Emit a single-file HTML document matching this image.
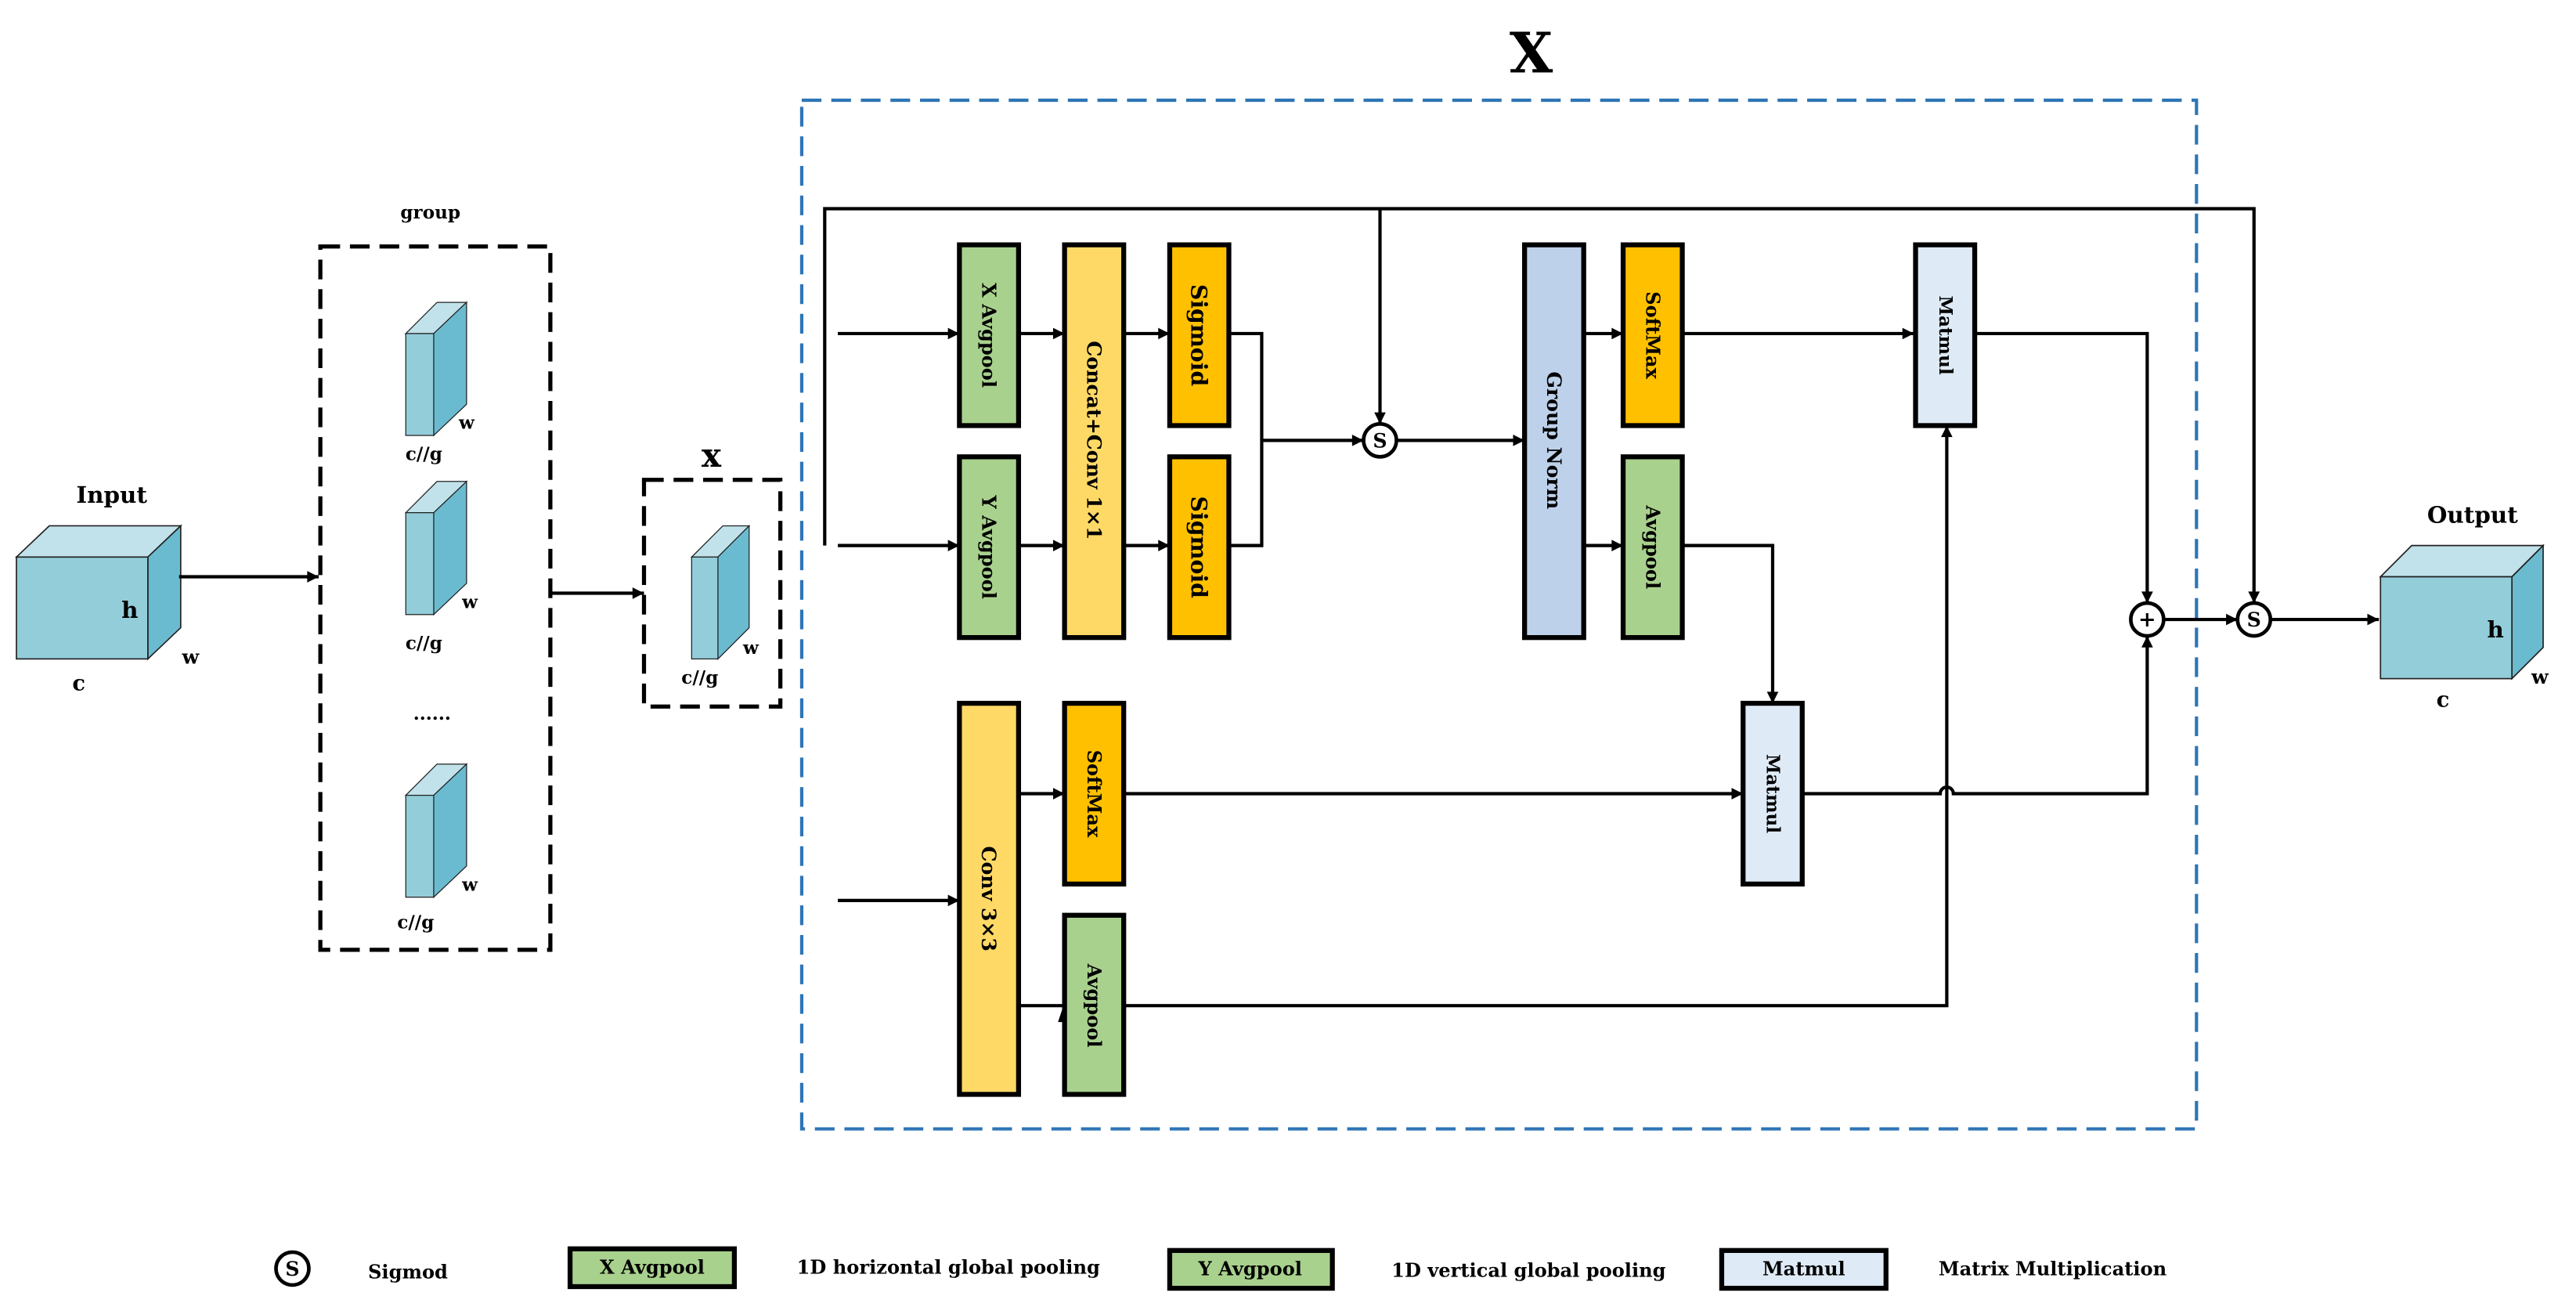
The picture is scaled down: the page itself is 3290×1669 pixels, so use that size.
<!DOCTYPE html>
<html><head><meta charset="utf-8"><style>
html,body{margin:0;padding:0;background:#fff;}
svg{display:block;}
text{font-family:"DejaVu Serif","Liberation Serif",serif;font-weight:bold;fill:#000;}
</style></head><body>
<svg width="3290" height="1669" viewBox="0 0 1568 795.4" preserveAspectRatio="none" xmlns="http://www.w3.org/2000/svg">
<defs>
<marker id="a" viewBox="0 0 10 10" refX="10" refY="5" markerWidth="9" markerHeight="7" orient="auto" markerUnits="userSpaceOnUse">
<path d="M0,0 L10,5 L0,10 z" fill="#000"/></marker>
</defs>
<rect width="1568" height="795.4" fill="#fff"/>

<!-- Input cube -->
<g stroke="#222" stroke-width="0.8">
<polygon points="10,339 30,320 110,320 90,339" fill="#c1e2ea"/>
<polygon points="90,339 110,320 110,382 90,401" fill="#6bbbd0"/>
<rect x="10" y="339" width="80" height="62" fill="#93cdda"/>
</g>
<text x="68" y="306" font-size="14" text-anchor="middle">Input</text>
<text x="79" y="376" font-size="14" text-anchor="middle">h</text>
<text x="48" y="420" font-size="13" text-anchor="middle">c</text>
<text x="116" y="404" font-size="12" text-anchor="middle">w</text>
<line x1="109" y1="351" x2="194" y2="351" stroke="#000" stroke-width="2" marker-end="url(#a)"/>

<!-- group box -->
<rect x="195" y="150" width="140" height="428" fill="none" stroke="#000" stroke-width="2.5" stroke-dasharray="12,6"/>
<text x="262" y="133" font-size="11" text-anchor="middle">group</text>
<g stroke="#222" stroke-width="0.6">
<polygon points="247,203 266,184 284,184 264,203" fill="#c1e2ea"/>
<polygon points="264,203 284,184 284,246 264,265" fill="#6bbbd0"/>
<rect x="247" y="203" width="17" height="62" fill="#93cdda"/>
<polygon points="247,312 266,293 284,293 264,312" fill="#c1e2ea"/>
<polygon points="264,312 284,293 284,355 264,374" fill="#6bbbd0"/>
<rect x="247" y="312" width="17" height="62" fill="#93cdda"/>
<polygon points="247,484 266,465 284,465 264,484" fill="#c1e2ea"/>
<polygon points="264,484 284,465 284,527 264,546" fill="#6bbbd0"/>
<rect x="247" y="484" width="17" height="62" fill="#93cdda"/>
</g>
<g font-size="11">
<text x="284" y="261" text-anchor="middle">w</text>
<text x="258" y="280" text-anchor="middle">c//g</text>
<text x="286" y="370" text-anchor="middle">w</text>
<text x="258" y="395" text-anchor="middle">c//g</text>
<text x="286" y="542" text-anchor="middle">w</text>
<text x="253" y="565" text-anchor="middle">c//g</text>
<text x="263" y="438" text-anchor="middle">......</text>
</g>
<line x1="335" y1="361" x2="392" y2="361" stroke="#000" stroke-width="2" marker-end="url(#a)"/>

<!-- x box -->
<rect x="392" y="292" width="83" height="138" fill="none" stroke="#000" stroke-width="2.5" stroke-dasharray="12,6"/>
<text x="433" y="284" font-size="20" text-anchor="middle">x</text>
<g stroke="#222" stroke-width="0.6">
<polygon points="421,339 440,320 456,320 437,339" fill="#c1e2ea"/>
<polygon points="437,339 456,320 456,382 437,401" fill="#6bbbd0"/>
<rect x="421" y="339" width="16" height="62" fill="#93cdda"/>
</g>
<text x="457" y="398" font-size="11" text-anchor="middle">w</text>
<text x="426" y="416" font-size="11" text-anchor="middle">c//g</text>

<!-- Big X and blue dashed -->
<text x="932" y="44" font-size="34" text-anchor="middle">X</text>
<rect x="488" y="61" width="849" height="626" fill="none" stroke="#2e75b6" stroke-width="2" stroke-dasharray="12,6"/>

<!-- connectors -->
<g stroke="#000" stroke-width="2" fill="none">
<polyline points="502,332 502,127 1372,127 1372,367" marker-end="url(#a)"/>
<line x1="840" y1="127" x2="840" y2="258" marker-end="url(#a)"/>
<line x1="510" y1="203" x2="584" y2="203" marker-end="url(#a)"/>
<line x1="510" y1="332" x2="584" y2="332" marker-end="url(#a)"/>
<line x1="620" y1="203" x2="648" y2="203" marker-end="url(#a)"/>
<line x1="620" y1="332" x2="648" y2="332" marker-end="url(#a)"/>
<line x1="684" y1="203" x2="712" y2="203" marker-end="url(#a)"/>
<line x1="684" y1="332" x2="712" y2="332" marker-end="url(#a)"/>
<polyline points="748,203 768,203 768,332 748,332"/>
<line x1="768" y1="268" x2="830" y2="268" marker-end="url(#a)"/>
<line x1="850" y1="268" x2="928" y2="268" marker-end="url(#a)"/>
<line x1="964" y1="203" x2="988" y2="203" marker-end="url(#a)"/>
<line x1="964" y1="332" x2="988" y2="332" marker-end="url(#a)"/>
<line x1="1024" y1="203" x2="1165" y2="203" marker-end="url(#a)"/>
<polyline points="1024,332 1079,332 1079,428" marker-end="url(#a)"/>
<polyline points="1202,203 1307,203 1307,367" marker-end="url(#a)"/>
<line x1="510" y1="548" x2="584" y2="548" marker-end="url(#a)"/>
<line x1="620" y1="483" x2="648" y2="483" marker-end="url(#a)"/>
<line x1="684" y1="483" x2="1061" y2="483" marker-end="url(#a)"/>
<path d="M1097,483 L1181,483 A4,4 0 0 1 1189,483 L1307,483 L1307,387" marker-end="url(#a)"/>
<polyline points="620,612 648,612"/>
<polyline points="684,612 1185,612 1185,259" marker-end="url(#a)"/>
<line x1="1317" y1="377" x2="1362" y2="377" marker-end="url(#a)"/>
<line x1="1382" y1="377" x2="1448" y2="377" marker-end="url(#a)"/>
</g>
<polygon points="644,622 648,610 652,622" fill="#000"/>

<!-- blocks -->
<g stroke="#000" stroke-width="3">
<rect x="584" y="149" width="36" height="110" fill="#a9d18e"/>
<rect x="584" y="278" width="36" height="110" fill="#a9d18e"/>
<rect x="648" y="149" width="36" height="239" fill="#ffd966"/>
<rect x="712" y="149" width="36" height="110" fill="#ffc000"/>
<rect x="712" y="278" width="36" height="110" fill="#ffc000"/>
<rect x="928" y="149" width="36" height="239" fill="#bdd1ea"/>
<rect x="988" y="149" width="36" height="110" fill="#ffc000"/>
<rect x="988" y="278" width="36" height="110" fill="#a9d18e"/>
<rect x="1166" y="149" width="36" height="110" fill="#deeaf6"/>
<rect x="1061" y="428" width="36" height="110" fill="#deeaf6"/>
<rect x="584" y="428" width="36" height="238" fill="#ffd966"/>
<rect x="648" y="428" width="36" height="110" fill="#ffc000"/>
<rect x="648" y="557" width="36" height="109" fill="#a9d18e"/>
</g>
<g text-anchor="middle" dominant-baseline="central">
<text transform="translate(602,204) rotate(90)" font-size="11.5">X Avgpool</text>
<text transform="translate(602,333) rotate(90)" font-size="11.5">Y Avgpool</text>
<text transform="translate(666,268) rotate(90)" font-size="12">Concat+Conv 1×1</text>
<text transform="translate(730,204) rotate(90)" font-size="13.5">Sigmoid</text>
<text transform="translate(730,333) rotate(90)" font-size="13.5">Sigmoid</text>
<text transform="translate(946,268) rotate(90)" font-size="12">Group Norm</text>
<text transform="translate(1006,204) rotate(90)" font-size="11.5">SoftMax</text>
<text transform="translate(1006,333) rotate(90)" font-size="11.5">Avgpool</text>
<text transform="translate(1184,204) rotate(90)" font-size="11">Matmul</text>
<text transform="translate(1079,483) rotate(90)" font-size="11">Matmul</text>
<text transform="translate(602,547) rotate(90)" font-size="12">Conv 3×3</text>
<text transform="translate(666,483) rotate(90)" font-size="11.5">SoftMax</text>
<text transform="translate(666,612) rotate(90)" font-size="11.5">Avgpool</text>
</g>

<!-- circles -->
<g stroke="#000" stroke-width="2.2" fill="#fff">
<circle cx="840" cy="268" r="10"/>
<circle cx="1307" cy="377" r="10"/>
<circle cx="1372" cy="377" r="10"/>
<circle cx="178" cy="772" r="10"/>
</g>
<g text-anchor="middle" dominant-baseline="central">
<text x="840" y="268" font-size="12">S</text>
<text x="1372" y="377" font-size="12">S</text>
<text x="178" y="772" font-size="12">S</text>
<text x="1307" y="377" font-size="13" font-weight="normal">+</text>
</g>

<!-- Output cube -->
<g stroke="#222" stroke-width="0.8">
<polygon points="1449,351 1468,332 1548,332 1529,351" fill="#c1e2ea"/>
<polygon points="1529,351 1548,332 1548,394 1529,413" fill="#6bbbd0"/>
<rect x="1449" y="351" width="80" height="62" fill="#93cdda"/>
</g>
<text x="1505" y="318" font-size="14" text-anchor="middle">Output</text>
<text x="1519" y="388" font-size="14" text-anchor="middle">h</text>
<text x="1487" y="430" font-size="13" text-anchor="middle">c</text>
<text x="1546" y="416" font-size="12" text-anchor="middle">w</text>

<!-- legend -->
<g stroke="#000" stroke-width="3">
<rect x="347" y="760" width="100" height="23" fill="#a9d18e"/>
<rect x="712" y="761" width="99" height="23" fill="#a9d18e"/>
<rect x="1048" y="761" width="100" height="23" fill="#deeaf6"/>
</g>
<g font-size="11.5" dominant-baseline="central">
<text x="224" y="774">Sigmod</text>
<text x="397" y="771" text-anchor="middle">X Avgpool</text>
<text x="485" y="771">1D horizontal global pooling</text>
<text x="761" y="772" text-anchor="middle">Y Avgpool</text>
<text x="847" y="773">1D vertical global pooling</text>
<text x="1098" y="772" text-anchor="middle">Matmul</text>
<text x="1180" y="772">Matrix Multiplication</text>
</g>
</svg>
</body></html>
